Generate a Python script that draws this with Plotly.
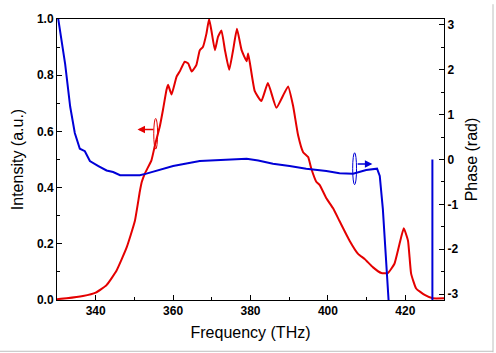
import plotly.graph_objects as go

# Intensity spectrum (red, left axis)
freq_int = [330.0, 332.5, 336.7, 340.0, 342.8, 345.4, 348.0, 350.1, 351.4, 351.9, 352.7,
            354.4, 355.3, 356.6, 357.4, 358.3, 358.7, 359.6, 360.9, 361.7, 363.0, 363.9,
            364.8, 366.0, 366.9, 367.7, 368.6, 369.3, 369.9, 370.8, 371.6, 372.5, 373.4,
            374.5, 375.5, 376.5, 377.7, 379.0, 379.4, 381.1, 382.8, 384.5, 386.7, 389.7,
            391.0, 392.3, 393.6, 394.9, 395.7, 397.0, 397.9, 399.6, 401.3, 403.0, 405.6,
            407.8, 409.5, 411.6, 413.8, 415.5, 417.2, 418.5, 419.6, 420.7, 421.5, 422.8,
            425.0, 427.1, 430.0]
intensity = [0.003, 0.006, 0.014, 0.026, 0.053, 0.105, 0.187, 0.28, 0.386, 0.42, 0.45,
             0.497, 0.55, 0.62, 0.678, 0.748, 0.766, 0.731, 0.795, 0.813, 0.848, 0.842,
             0.813, 0.836, 0.889, 0.9, 0.947, 1.0, 0.959, 0.889, 0.936, 0.959, 0.889,
             0.819, 0.889, 0.965, 0.889, 0.85, 0.877, 0.743, 0.708, 0.772, 0.684, 0.760,
             0.691, 0.586, 0.526, 0.509, 0.468, 0.421, 0.409, 0.362, 0.327, 0.281, 0.211,
             0.164, 0.146, 0.117, 0.096, 0.096, 0.129, 0.199, 0.255, 0.211, 0.094, 0.041,
             0.018, 0.006, 0.006]

# Spectral phase (blue, right axis); None marks the 2*pi wrap
freq_phase = [330.2, 332.1, 333.4, 334.6, 335.9, 337.2, 338.5, 339.4, 340.7, 342.8, 344.5,
              346.3, 348.5, 351.4, 353.1, 356.6, 360.0, 366.9, 375.6, 379.0, 382.0, 385.8,
              390.1, 394.4, 399.6, 403.0, 406.5, 408.2, 409.9, 412.7, 413.4, 414.2, 415.1,
              415.8, None, 427.0, 427.0]
phase = [3.2, 2.13, 1.18, 0.59, 0.24, 0.185, -0.035, -0.073, -0.145, -0.245, -0.278,
         -0.35, -0.352, -0.352, -0.315, -0.233, -0.145, -0.035, 0.0, 0.015, -0.022, -0.095,
         -0.145, -0.205, -0.255, -0.308, -0.315, -0.278, -0.233, -0.205, -0.366, -1.10, -2.20,
         -3.3, None, 0.0, -3.3]

x_ticks = [340, 360, 380, 400, 420]
y_ticks = [0.0, 0.2, 0.4, 0.6, 0.8, 1.0]
y2_ticks = [3, 2, 1, 0, -1, -2, -3]

RED = "rgb(228,0,0)"
BLUE = "rgb(0,0,215)"
FONT = "Liberation Sans, Arial, sans-serif"

fig = go.Figure()
fig.add_trace(go.Scatter(x=freq_int, y=intensity, mode="lines",
                         line=dict(color=RED, width=2, shape="spline", smoothing=0.4),
                         yaxis="y", showlegend=False))
fig.add_trace(go.Scatter(x=freq_phase, y=phase, mode="lines",
                         line=dict(color=BLUE, width=2), yaxis="y2",
                         connectgaps=False, showlegend=False))

tickfont = dict(family=FONT, size=12, color="black", weight="bold")
axis_common = dict(showline=True, linecolor="black", linewidth=1, ticks="inside",
                   ticklen=5, tickcolor="black", showgrid=False, zeroline=False,
                   tickfont=tickfont)
title_font = dict(family=FONT, size=16, color="black")

fig.update_layout(
    width=496, height=353,
    margin=dict(l=57, r=52, t=15, b=53),
    paper_bgcolor="white", plot_bgcolor="white",
    xaxis=dict(range=[330, 430], tickvals=x_ticks, ticktext=[str(v) for v in x_ticks],
               mirror=True,
               minor=dict(dtick=10, tick0=330, ticks="inside", ticklen=3, tickcolor="black"),
               title=dict(text="Frequency (THz)", font=title_font, standoff=9),
               **axis_common),
    yaxis=dict(range=[0, 1], tickvals=y_ticks, ticktext=[f"{v:.1f}" for v in y_ticks],
               minor=dict(dtick=0.1, tick0=0, ticks="inside", ticklen=3, tickcolor="black"),
               title=dict(text="Intensity (a.u.)", font=title_font, standoff=9),
               **axis_common),
    yaxis2=dict(range=[-3.13, 3.13], overlaying="y", side="right",
                tickvals=y2_ticks, ticktext=[str(v) for v in y2_ticks],
                minor=dict(dtick=0.5, tick0=0, ticks="inside", ticklen=3, tickcolor="black"),
                title=dict(text="Phase (rad)", font=title_font, standoff=8),
                **axis_common),
)

# arrows indicating axis assignment
fig.add_annotation(x=350.8, y=0.607, ax=355.3, ay=0.607, xref="x", yref="y",
                   axref="x", ayref="y", showarrow=True, arrowhead=2, arrowsize=1,
                   arrowwidth=1.5, arrowcolor=RED, text="")
fig.add_shape(type="circle", xref="x", yref="y", x0=355.0, x1=356.0, y0=0.537, y1=0.646,
              line=dict(color=RED, width=1))
fig.add_annotation(x=411.5, y=-0.1, ax=407.3, ay=-0.1, xref="x", yref="y2",
                   axref="x", ayref="y2", showarrow=True, arrowhead=2, arrowsize=1,
                   arrowwidth=1.5, arrowcolor=BLUE, text="")
fig.add_shape(type="circle", xref="x", yref="y2", x0=406.4, x1=407.4, y0=-0.56, y1=0.15,
              line=dict(color=BLUE, width=1))

# light grey image border (right and bottom)
fig.add_shape(type="line", xref="paper", yref="paper", x0=(493 - 57) / 387, x1=(493 - 57) / 387,
              y0=-53 / 285, y1=15 / 285 + 1, line=dict(color="rgb(190,190,190)", width=1))
fig.add_shape(type="line", xref="paper", yref="paper", x0=-57 / 387, x1=(493 - 57) / 387,
              y0=-52 / 285, y1=-52 / 285, line=dict(color="rgb(190,190,190)", width=1))

fig.write_html("out.html")
